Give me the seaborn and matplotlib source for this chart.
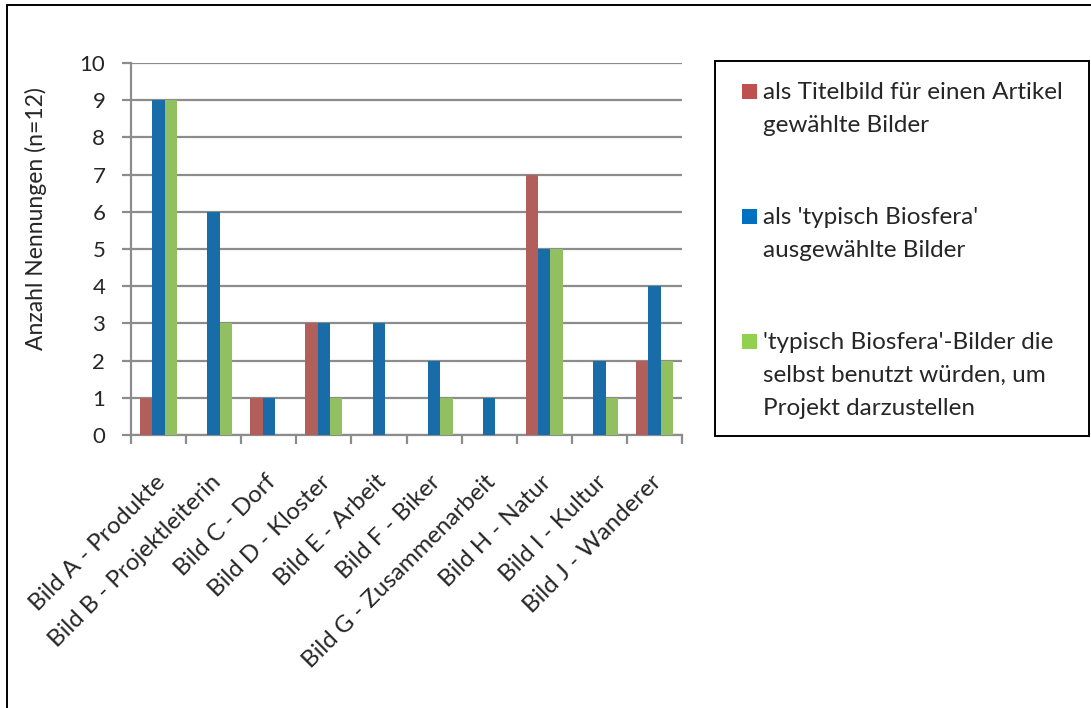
import matplotlib as mtl
mtl.use('Agg')
import matplotlib.pyplot as plt
from matplotlib.patches import Rectangle
from matplotlib.transforms import ScaledTranslation
import numpy as np
import pandas as pd
import seaborn as sns

# chart data
bilder = ["Bild A - Produkte", "Bild B - Projektleiterin", "Bild C - Dorf",
          "Bild D - Kloster", "Bild E - Arbeit", "Bild F - Biker",
          "Bild G - Zusammenarbeit", "Bild H - Natur", "Bild I - Kultur",
          "Bild J - Wanderer"]
titelbild = [1, 0, 1, 3, 0, 0, 0, 7, 0, 2]
typisch = [9, 6, 1, 3, 3, 2, 1, 5, 2, 4]
selbst = [9, 3, 0, 1, 0, 1, 0, 5, 1, 2]
series = ["als Titelbild für einen Artikel\ngewählte Bilder",
          "als 'typisch Biosfera'\nausgewählte Bilder",
          "'typisch Biosfera'-Bilder die\nselbst benutzt würden, um\nProjekt darzustellen"]
colors = ["#C0504D", "#0070C0", "#92D050"]
yticks = list(range(0, 11))

df = pd.DataFrame({
	"Bild": bilder * 3,
	"Serie": [series[0]] * 10 + [series[1]] * 10 + [series[2]] * 10,
	"Anzahl": titelbild + typisch + selbst,
})

sns.set_style("white")
plt.rcParams['font.family'] = ['Lato', 'DejaVu Sans']

W, H = 1091, 708
GRID = "#8c8c8c"
fig = plt.figure(figsize=(W / 100, H / 100), dpi=100)
ax = fig.add_axes([131 / W, 1 - 435 / H, (682 - 131) / W, (435 - 63) / H])

sns.barplot(data=df, x="Bild", y="Anzahl", hue="Serie", palette=colors,
			width=0.67, ax=ax, legend=False, zorder=3, linewidth=0)

ax.set_ylim(0, 10)
ax.set_xlim(-0.5, len(bilder) - 0.5)
ax.set_yticks(yticks)
ax.set_yticklabels([str(v) for v in yticks], fontsize=16)
ax.yaxis.grid(True, color=GRID, linewidth=1.6, zorder=0)
ax.set_axisbelow(True)
for s in ["top", "right"]:
	ax.spines[s].set_visible(False)
for s in ["left", "bottom"]:
	ax.spines[s].set_color(GRID)
	ax.spines[s].set_linewidth(1.6)
ax.tick_params(axis="y", which="major", left=True, length=6.5, width=1.6,
			   color=GRID, pad=12)

# x ticks between categories, labels rotated
ax.set_xticks(np.arange(len(bilder)))
ax.set_xticklabels(bilder, rotation=45, ha="right", va="top",
				   rotation_mode="anchor", fontsize=17.3)
ax.tick_params(axis="x", which="major", length=0, pad=26)
shift = ScaledTranslation(-4 / 100, 0, fig.dpi_scale_trans)
for lab in ax.get_xticklabels():
	lab.set_transform(lab.get_transform() + shift)
ax.set_xticks(np.arange(-0.5, len(bilder), 1), minor=True)
ax.tick_params(axis="x", which="minor", bottom=True, length=6.5, width=1.6, color=GRID)
ax.set_xlabel("")
ax.set_ylabel("Anzahl Nennungen (n=12)", fontsize=16.5)
ax.yaxis.set_label_coords((47 - 131) / (682 - 131), (435 - 219) / (435 - 63))

# legend box, drawn by hand so the markers sit on the first text line
fig.patches.append(Rectangle((715 / W, 1 - 436 / H), (1089 - 715) / W, (436 - 61) / H,
							 transform=fig.transFigure, fill=False, edgecolor="black",
							 linewidth=1.4))
for i, (lab, col) in enumerate(zip(series, colors)):
	base = 99 + 125 * i
	fig.patches.append(Rectangle((742 / W, 1 - base / H), 15 / W, 15 / H,
								 transform=fig.transFigure, facecolor=col,
								 edgecolor="none"))
	for j, line in enumerate(lab.split("\n")):
		fig.text(763 / W, 1 - (base + 33 * j) / H, line, fontsize=17.5,
				 va="baseline", ha="left")

# outer chart border
fig.add_artist(plt.Line2D([7 / W, 7 / W], [0, 1 - 5 / H], transform=fig.transFigure,
						  color="black", linewidth=1.4))
fig.add_artist(plt.Line2D([7 / W, 1], [1 - 5 / H, 1 - 5 / H], transform=fig.transFigure,
						  color="black", linewidth=1.4))

plt.savefig("out.png", dpi=100)
